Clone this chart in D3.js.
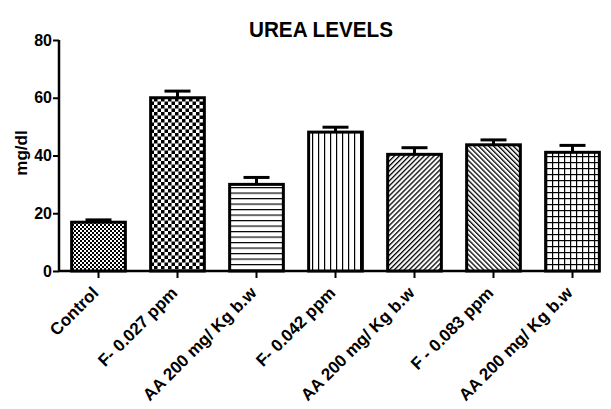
<!DOCTYPE html>
<html>
<head>
<meta charset="utf-8">
<script src="https://cdn.jsdelivr.net/npm/d3@7"></script>
<style>
  body { margin: 0; background: #fff; }
  text { font-family: "Liberation Sans", Arial, sans-serif; font-weight: bold; }
</style>
</head>
<body>
<svg id="chart" width="611" height="409"></svg>
<script>
// data
const categories = ["Control", "F- 0.027 ppm", "AA 200 mg/ Kg b.w", "F- 0.042 ppm",
                    "AA 200 mg/ Kg b.w", "F - 0.083 ppm", "AA 200 mg/ Kg b.w"];
const means = [16.9, 60.0, 30.0, 48.1, 40.4, 43.7, 41.1];
const sems  = [0.8, 2.3, 2.4, 1.7, 2.3, 1.7, 2.4];
const yTicks = [0, 20, 40, 60, 80];
const patternIds = ["fineCheck", "bigCheck", "hLines", "vLines", "diagUp", "diagDown", "grid"];

const svg = d3.select("#chart");
const defs = svg.append("defs");

function pat(id, w, h) {
  const p = defs.append("pattern").attr("id", id)
    .attr("patternUnits", "userSpaceOnUse").attr("width", w).attr("height", h);
  p.append("rect").attr("width", w).attr("height", h).attr("fill", "#fff");
  return p;
}
// fine checkerboard
let p = pat("fineCheck", 4, 4);
p.append("rect").attr("width", 2).attr("height", 2).attr("fill", "#000");
p.append("rect").attr("x", 2).attr("y", 2).attr("width", 2).attr("height", 2).attr("fill", "#000");
// big checkerboard
p = pat("bigCheck", 7, 7);
p.append("rect").attr("width", 3.5).attr("height", 3.5).attr("fill", "#000");
p.append("rect").attr("x", 3.5).attr("y", 3.5).attr("width", 3.5).attr("height", 3.5).attr("fill", "#000");
// horizontal lines
p = pat("hLines", 6, 5.5);
p.append("rect").attr("width", 6).attr("height", 1.2).attr("fill", "#000");
// vertical lines
p = pat("vLines", 6, 6);
p.append("rect").attr("width", 1.2).attr("height", 6).attr("fill", "#000");
// diagonal /
p = pat("diagUp", 3.5, 3.5).attr("patternTransform", "rotate(45)");
p.append("rect").attr("width", 1.3).attr("height", 3.5).attr("fill", "#000");
// diagonal \
p = pat("diagDown", 3.5, 3.5).attr("patternTransform", "rotate(-45)");
p.append("rect").attr("width", 1.3).attr("height", 3.5).attr("fill", "#000");
// grid
p = pat("grid", 6, 6);
p.append("rect").attr("width", 6).attr("height", 1.2).attr("fill", "#000");
p.append("rect").attr("width", 1.2).attr("height", 6).attr("fill", "#000");

const mLeft = 59, mRight = 600, mTop = 40, mBottom = 271;

const x = d3.scaleBand().domain(d3.range(categories.length))
  .range([mLeft, 612]).paddingInner(0.32).paddingOuter(0.16);
const y = d3.scaleLinear().domain([0, 80]).range([mBottom, mTop]);

// title
svg.append("text").attr("x", 321).attr("y", 37).attr("text-anchor", "middle")
  .attr("font-size", 22).attr("textLength", 144).attr("lengthAdjust", "spacingAndGlyphs")
  .text("UREA LEVELS");

// y label
svg.append("text").attr("transform", `translate(27,153) rotate(-90)`)
  .attr("text-anchor", "middle").attr("font-size", 17).text("mg/dl");

// y axis
const yAxis = svg.append("g").attr("transform", `translate(${mLeft},0)`)
  .call(d3.axisLeft(y).tickValues(yTicks).tickSize(6).tickPadding(1));
yAxis.select(".domain").attr("stroke-width", 2.5).attr("d", `M0,${mBottom}V${mTop}`);
yAxis.selectAll(".tick line").attr("stroke-width", 2);
yAxis.selectAll("text").attr("font-size", 16).attr("font-family", "Liberation Sans, Arial")
  .attr("font-weight", "bold").attr("fill", "#000");

// x axis
const xAxis = svg.append("g").attr("transform", `translate(0,${mBottom})`)
  .call(d3.axisBottom(x).tickSize(7).tickFormat(i => categories[i]));
xAxis.select(".domain").attr("stroke-width", 2.5).attr("d", `M${mLeft},0H${mRight}`);
xAxis.selectAll(".tick line").attr("stroke-width", 2);
xAxis.selectAll("text")
  .attr("font-size", 17).attr("font-family", "Liberation Sans, Arial")
  .attr("font-weight", "bold").attr("fill", "#000")
  .attr("text-anchor", "end").attr("dy", 0).attr("y", 0)
  .attr("transform", "translate(1,23) rotate(-45)");

// bars
const bars = svg.append("g");
bars.selectAll("rect").data(means).enter().append("rect")
  .attr("x", (d, i) => x(i))
  .attr("y", d => y(d))
  .attr("width", x.bandwidth())
  .attr("height", d => y(0) - y(d))
  .attr("fill", (d, i) => `url(#${patternIds[i]})`)
  .attr("stroke", "#000").attr("stroke-width", 3);

// error bars
const err = svg.append("g").attr("stroke", "#000").attr("stroke-width", 3);
means.forEach((m, i) => {
  const cx = x(i) + x.bandwidth() / 2;
  err.append("line").attr("x1", cx).attr("x2", cx).attr("y1", y(m)).attr("y2", y(m + sems[i]));
  err.append("line").attr("x1", cx - 13).attr("x2", cx + 13)
    .attr("y1", y(m + sems[i])).attr("y2", y(m + sems[i]));
});
</script>
</body>
</html>
